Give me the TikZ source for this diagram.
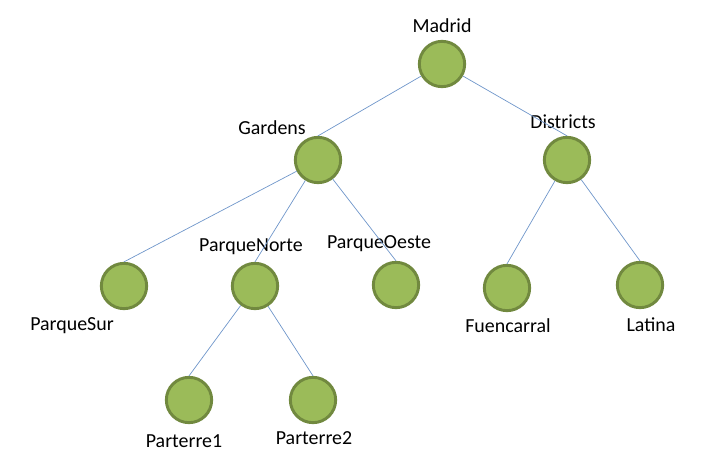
\documentclass[tikz,border=0pt]{standalone}
\usepackage{fontspec}
\setmainfont{Carlito}
\usepackage{tikz}
\usetikzlibrary{positioning}
\definecolor{leafgreen}{HTML}{9BBB59}
\definecolor{leafborder}{HTML}{71893F}
\definecolor{linkblue}{HTML}{6F96CA}
\tikzstyle{areadot}=[draw=leafborder,fill=leafgreen,circle,line width=2.5pt,minimum size=1.36cm,inner sep=0]
\tikzstyle{areatag}=[font=\fontsize{17}{20}\selectfont,text=black,inner sep=0]
\tikzstyle{tree}=[every edge/.style={draw=linkblue,line width=0.6pt}]

\begin{document}
\begin{tikzpicture}[x=0.03cm,y=-0.03cm,tree]
\path[use as bounding box] (0,0) rectangle (707,474);

\node[areadot] (madrid) at (442,64) {};
\node[areadot] (gardens) at (318,160) {};
\node[areadot] (districts) at (567,160) {};
\node[areadot] (psur) at (124,286) {};
\node[areadot] (pnorte) at (255,286) {};
\node[areadot] (poeste) at (396,285) {};
\node[areadot] (fuenc) at (507,288) {};
\node[areadot] (latina) at (640,285) {};
\node[areadot] (part1) at (189,400) {};
\node[areadot] (part2) at (313,400) {};

\node[areatag] (madridl) at (442,26) {Madrid};
\node[areatag] (gardensl) at (272,128) {Gardens};
\node[areatag] (districtsl) at (563,122) {Districts};
\node[areatag] (psurl) at (72,326) {ParqueSur};
\node[areatag] (pnortel) at (251,247) {ParqueNorte};
\node[areatag] (poestel) at (379,244) {ParqueOeste};
\node[areatag] (fuencl) at (508,326) {Fuencarral};
\node[areatag] (latinal) at (651,325) {Latina};
\node[areatag] (part1l) at (184,441) {Parterre1};
\node[areatag] (part2l) at (314,438) {Parterre2};

\path
(madrid) edge (gardens.north) edge (districts.north)
(gardens) edge (psur.north) edge (pnorte.north) edge (poeste.north)
(districts) edge (fuenc.north) edge (latina.north)
(pnorte) edge (part1.north) edge (part2.north)
;

\end{tikzpicture}
\end{document}
